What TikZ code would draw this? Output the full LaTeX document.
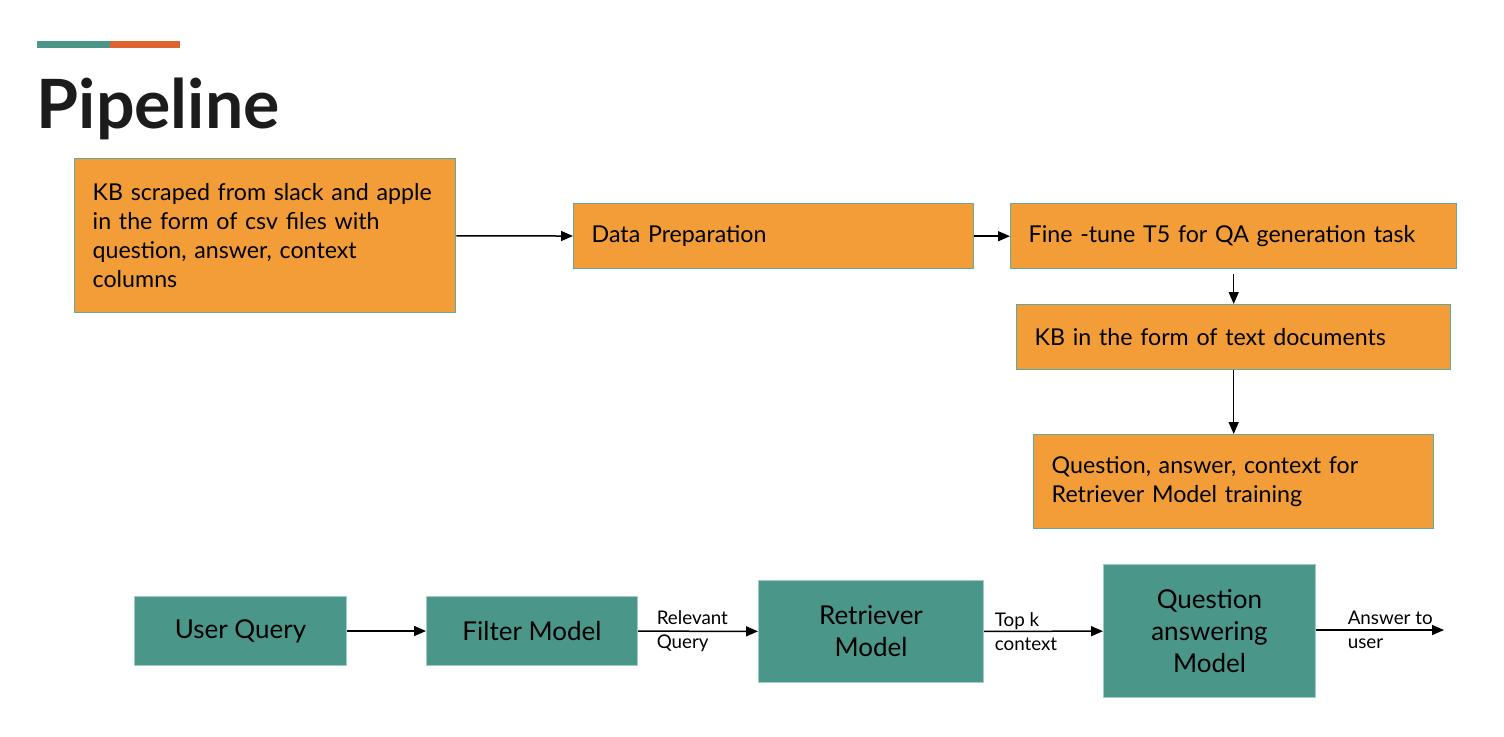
\documentclass[tikz,border=0pt]{standalone}
\usepackage{fontspec}
\setmainfont{Lato}
\usetikzlibrary{arrows.meta,positioning}
\definecolor{boxorange}{HTML}{F29D38}
\definecolor{boxteal}{HTML}{4A978A}
\definecolor{boxline}{HTML}{5FAA9C}
\definecolor{barorange}{HTML}{DD6330}
\definecolor{titlegray}{HTML}{1C1C1C}
\tikzset{
  orangebox/.style={draw=boxline, line width=0.7pt, fill=boxorange, anchor=north west, inner xsep=9pt, align=left, font=\fontsize{11.6}{14.6}\selectfont},
  tealbox/.style={draw=boxline!60, line width=0.5pt, fill=boxteal, anchor=north west, align=center, font=\fontsize{13}{16}\selectfont},
  lbl/.style={font=\fontsize{9.4}{12}\selectfont, align=left, inner sep=0pt},
}
\begin{document}
\begin{tikzpicture}[x=0.5pt, y=-0.5pt, -{Triangle[length=6pt,width=5pt]}, line width=0.75pt]
    \useasboundingbox[fill=white] (0,0) rectangle (1504,736);
    % title
    \fill[boxteal] (37,41) rectangle (110,48);
    \fill[barorange] (110,41) rectangle (180,48);
    \node[anchor=base west, inner sep=0pt, text=titlegray, font=\fontsize{34}{36}\bfseries] (title) at (36,128) {Pipeline};

    % training data pipeline
    \node[orangebox, text width=172.5pt, minimum height=77pt] (kb) at (74,158)
        {KB scraped from slack and apple\\in the form of csv files with\\question, answer, context\\columns};
    \node[orangebox, text width=182pt, minimum height=32.5pt] (prep) at (573,203) {Data Preparation};
    \node[orangebox, text width=205pt, minimum height=32.5pt] (tune) at (1010,203) {Fine -tune T5 for QA generation task};
    \node[orangebox, text width=199pt, minimum height=32.5pt] (docs) at (1016,304) {KB in the form of text documents};
    \node[orangebox, text width=182pt, minimum height=47pt] (qadata) at (1033,434)
        {Question, answer, context for\\Retriever Model training};

    \path
    (kb) edge (prep)
    (prep) edge (tune)
    (tune) edge[shorten <=2.5pt] (docs)
    (docs) edge (qadata);

    % inference pipeline
    \node[tealbox, minimum width=106pt, minimum height=34.5pt] (user) at (134,596) {User Query};
    \node[tealbox, minimum width=105.5pt, minimum height=34.5pt] (filter) at (426,596) {Filter Model};
    \node[tealbox, minimum width=112.5pt, minimum height=51pt] (retr) at (758,580) {Retriever\\Model};
    \node[tealbox, minimum width=106pt, minimum height=66.5pt] (qamodel) at (1103,564) {Question\\answering\\Model};
    \coordinate (out) at (1444,630);

    \path
    (user) edge (filter)
    (filter) edge node[lbl, pos=0, anchor=west, xshift=9pt] {Relevant\\Query} (retr)
    (retr) edge node[lbl, pos=0, anchor=west, xshift=5pt] {Top k\\context} (qamodel)
    (qamodel.east |- out) edge node[lbl, pos=0, anchor=west, xshift=15.5pt] {Answer to\\user} (out);
\end{tikzpicture}
\end{document}
